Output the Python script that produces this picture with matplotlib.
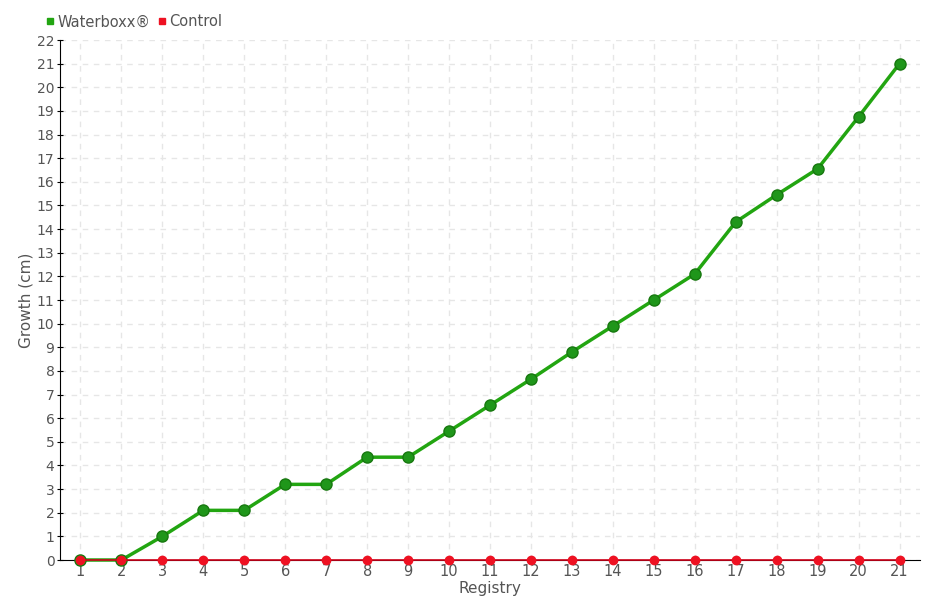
import matplotlib.pyplot as plt
from matplotlib.lines import Line2D

plt.rcParams['font.family'] = ['Liberation Sans Narrow', 'DejaVu Sans']

registry = list(range(1, 22))
waterboxx = [0, 0, 1.0, 2.1, 2.1, 3.2, 3.2, 4.35, 4.35, 5.45, 6.55, 7.65, 8.8, 9.9,
             11.0, 12.1, 14.3, 15.45, 16.55, 18.75, 21.0]
control = [0] * 21

fig = plt.figure(figsize=(9.4, 6.0), dpi=100)
ax = fig.add_axes([60 / 940, 40 / 600, 860 / 940, 520 / 600])

txt = '#555555'
green = '#22a511'
red = '#ee1122'

ax.plot(registry, waterboxx, color=green, lw=2.5, marker='o', ms=8,
        mfc='#1f961a', mec='#17780f', mew=1, zorder=3, clip_on=False)
ax.plot(registry, control, color='#d0021b', lw=1.2, marker='o', ms=6,
        mfc=red, mec=red, zorder=4, clip_on=False)

ax.set_xlim(0.5, 21.5)
ax.set_ylim(0, 22)
ax.set_xticks(registry)
ax.set_yticks(range(0, 23))
ax.grid(True, color='#e6e6e6', ls=(0, (4, 4)), lw=1)
ax.set_axisbelow(True)
for s in ['top', 'right']:
    ax.spines[s].set_visible(False)
ax.tick_params(axis='y', length=4, direction='inout', labelsize=10, colors=txt, pad=2)
ax.tick_params(axis='y', color='black')
ax.tick_params(axis='x', length=0, labelsize=10.5, colors=txt, pad=3)
ax.set_xlabel('Registry', color=txt, fontsize=11, labelpad=1)
ax.set_ylabel('Growth (cm)', color=txt, fontsize=11, labelpad=2)

handles = [Line2D([], [], ls='', marker='s', ms=5, color=green),
           Line2D([], [], ls='', marker='s', ms=5, color=red)]
leg = fig.legend(handles, ['Waterboxx®', 'Control'], loc='center left',
                 bbox_to_anchor=(46 / 940, 1 - 22 / 600), ncol=2, frameon=False,
                 fontsize=10.5, handlelength=0.6, handletextpad=0.2, columnspacing=0.5,
                 borderpad=0, borderaxespad=0)
for t in leg.get_texts():
    t.set_color(txt)

fig.savefig('out.png')
